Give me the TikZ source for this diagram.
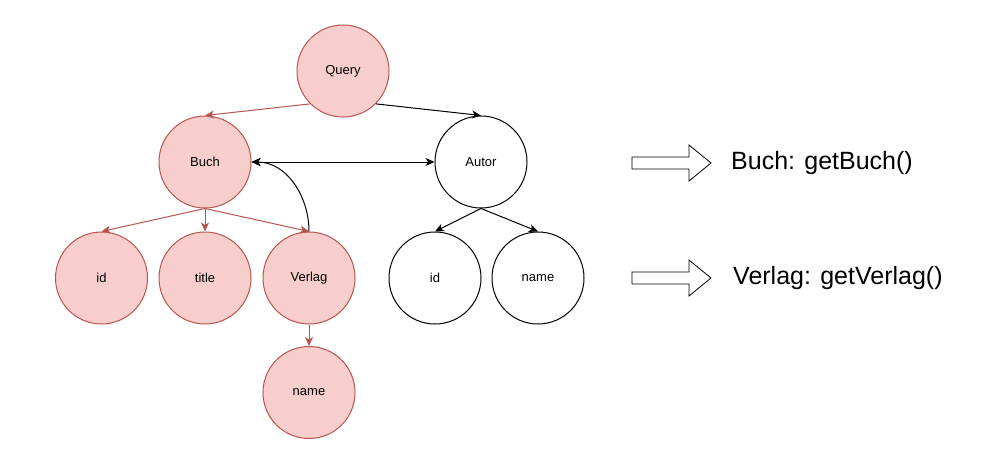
\documentclass[tikz,border=0pt]{standalone}
\usepackage{fontspec}
\setmainfont{Liberation Sans}
\usetikzlibrary{arrows.meta}
\definecolor{pinkfill}{HTML}{F8CECC}
\definecolor{pinkline}{HTML}{B85450}
\tikzset{
  redcirc/.style={circle, draw=pinkline, fill=pinkfill, line width=1pt, minimum size=92pt, inner sep=0pt, font=\fontsize{13}{15}\selectfont},
  whitecirc/.style={circle, draw=black, fill=white, line width=1pt, minimum size=92pt, inner sep=0pt, font=\fontsize{13}{15}\selectfont},
  tip/.style={-{Stealth[length=9pt,width=8pt,inset=2.5pt]}},
  redarr/.style={tip, draw=pinkline, line width=1pt},
  blackarr/.style={tip, draw=black, line width=1pt},
  bigarrow/.style={draw=black, fill=white, line width=0.8pt},
  label/.style={anchor=west, inner sep=0pt, font=\fontsize{25}{30}\selectfont}
}
\begin{document}
\begin{tikzpicture}[x=1pt,y=-1pt]
\useasboundingbox (0,0) rectangle (982,455);
\node[redcirc] (Q) at (343,71) {Query};
\node[redcirc] (B) at (205,162) {Buch};
\node[whitecirc] (A) at (481,162) {Autor};
\node[redcirc] (id1) at (101.5,278) {id};
\node[redcirc] (ti) at (205,278) {title};
\node[redcirc] (V) at (309,278) {Verlag};
\node[redcirc] (vn) at (309,392.5) {name};
\node[whitecirc] (id2) at (435,278) {id};
\node[whitecirc] (an) at (538,278) {name};

\draw[redarr] (Q.225) -- (B.north);
\draw[blackarr] (Q.315) -- (A.north);
\draw[blackarr, {Stealth[length=9pt,width=8pt,inset=2.5pt]}-{Stealth[length=9pt,width=8pt,inset=2.5pt]}] (B.east) -- (A.west);
\draw[redarr] (B.south) -- (id1.north);
\draw[redarr] (B.south) -- (ti.north);
\draw[redarr] (B.south) -- (V.north);
\draw[redarr] (V.south) -- (vn.north);
\draw[blackarr] (A.south) -- (id2.north);
\draw[blackarr] (A.south) -- (an.north);
\draw[blackarr] (V.north) to[out=90,in=0] (B.east);

\draw[bigarrow] (632,157) -- (689,157) -- (689,145) -- (711,163) -- (689,181) -- (689,169) -- (632,169) -- cycle;
\draw[bigarrow] (632,272) -- (689,272) -- (689,260) -- (711,278) -- (689,296) -- (689,284) -- (632,284) -- cycle;
\node[label] (t1) at (731,163) {Buch: getBuch()};
\node[label] (t2) at (733,278) {Verlag: getVerlag()};
\end{tikzpicture}
\end{document}
